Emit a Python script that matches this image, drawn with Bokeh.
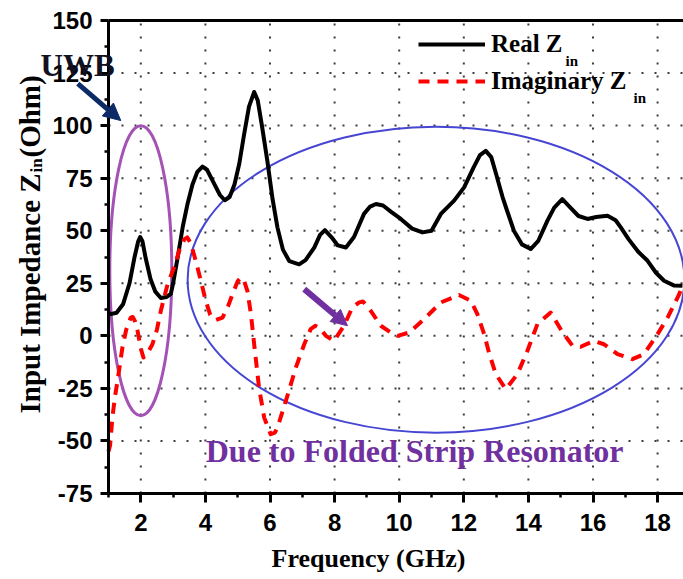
import math
from bokeh.plotting import figure
from bokeh.models import (FixedTicker, LinearAxis, Label, Arrow, NormalHead,
                          Legend, LegendItem)
from bokeh.embed import file_html
from bokeh.resources import INLINE

# ---------------- data ----------------
real_freq = [1.0, 1.07, 1.25, 1.45, 1.65, 1.8, 1.92, 1.98, 2.05, 2.15, 2.3, 2.45,
             2.62, 2.8, 2.93, 3.0, 3.15, 3.3, 3.45, 3.6, 3.75, 3.91, 4.05, 4.25,
             4.45, 4.6, 4.75, 4.9, 5.05, 5.2, 5.35, 5.51, 5.62, 5.75, 5.92, 6.08,
             6.23, 6.4, 6.6, 6.9, 7.1, 7.37, 7.55, 7.7, 7.9, 8.1, 8.35, 8.6, 8.91,
             9.1, 9.28, 9.5, 9.75, 10.05, 10.4, 10.72, 11.0, 11.29, 11.7, 12.01,
             12.3, 12.5, 12.68, 12.85, 13.0, 13.2, 13.34, 13.55, 13.8, 14.07, 14.3,
             14.59, 14.8, 15.05, 15.3, 15.55, 15.83, 16.1, 16.45, 16.7, 16.86,
             17.1, 17.4, 17.69, 17.95, 18.2, 18.5, 18.77]
real_z = [11, 10.3, 11, 15, 25, 37, 45, 47, 45, 37, 27, 21,
          18, 18.5, 20, 25, 38, 52, 63, 72, 78, 80.5, 79, 73,
          67, 64.5, 66, 72, 82, 96, 109, 116, 112, 100, 83, 65,
          51.6, 41, 35.5, 34, 36, 42, 48, 50.3, 47, 43, 42, 47, 58,
          61.5, 62.7, 62, 59, 55.6, 51, 49.2, 50, 58, 64.3, 70.6,
          80, 86, 88, 85, 77, 66, 59.5, 50, 43.5, 41.3, 45,
          54.8, 61, 65, 61, 57, 55.6, 56.5, 57.1, 55, 51.6,
          46, 40, 35.7, 30, 26.2, 24, 23.8]

imag_freq = [1.0, 1.05, 1.12, 1.2, 1.28, 1.43, 1.55, 1.69, 1.75, 1.82, 1.9, 2.0,
             2.08, 2.2, 2.36, 2.5, 2.62, 2.83, 3.03, 3.2, 3.35, 3.44, 3.55, 3.7,
             3.86, 4.01, 4.15, 4.32, 4.53, 4.7, 4.84, 5.0, 5.1, 5.2, 5.3, 5.41,
             5.51, 5.66, 5.82, 6.02, 6.15, 6.23, 6.49, 6.8, 7.06, 7.26, 7.4, 7.55,
             7.73, 7.98, 8.29, 8.55, 8.76, 8.88, 9.12, 9.43, 9.74, 9.95, 10.31,
             10.77, 11.29, 11.85, 12.22, 12.42, 12.63, 12.78, 12.99, 13.3, 13.66,
             13.97, 14.28, 14.69, 15.06, 15.37, 15.62, 16.03, 16.34, 16.76, 17.22,
             17.58, 18.0, 18.31, 18.67, 18.77]
imag_z = [-55, -52, -39, -29, -21.4, -5.6, 3, 8.7, 9, 7, 2.4, -6,
          -10.3, -8.5, -4, 3, 11.9, 24.6, 32.5, 41, 46, 46.8, 44, 35.7,
          26.2, 16.7, 10, 7.5, 8.7, 14, 19.8, 26, 27.8, 26, 21.4, 10.3,
          -4, -24.6, -38.9, -46.8, -46, -43.7, -31, -15.1, -4, 3.2, 4.8, 3.5,
          0, -2.4, 4.8, 13.5, 15.9, 16.3, 11.9, 4.8, 1.6, 0, 1.6,
          7.9, 15.9, 19.4, 16.7, 10.3, 0.8, -8, -18.2, -25.4, -18.2,
          -7.1, 5.6, 11.1, 1.6, -4.8, -5.2, -2.4, -4, -8.7, -11.1,
          -8.7, 0.8, 8.7, 19.8, 23.8]

x_ticks = [2, 4, 6, 8, 10, 12, 14, 16, 18]
x_minor = [1, 3, 5, 7, 9, 11, 13, 15, 17, 19]
y_ticks = [-75, -50, -25, 0, 25, 50, 75, 100, 125, 150]
y_minor = [-62.5, -37.5, -12.5, 12.5, 37.5, 62.5, 87.5, 112.5, 137.5]
x_axis_min = 1
y_axis_min, y_axis_max = -75, 150

series_names = ["Real Z", "Imaginary Z"]

# ---------------- layout (pixels) ----------------
W, H = 683, 579
AX_LEFT_PX = 108      # where x = 1 GHz sits
AX_TOP_PX = 20        # where y = 150 sits
AX_BOTTOM_PX = 493    # where y = -75 sits
PX_PER_GHZ = 32.3
ppu = (AX_BOTTOM_PX - AX_TOP_PX) / (y_axis_max - y_axis_min)
x_start = x_axis_min - AX_LEFT_PX / PX_PER_GHZ
x_end = x_axis_min + (W - AX_LEFT_PX) / PX_PER_GHZ
y_start = y_axis_min - (H - AX_BOTTOM_PX) / ppu
y_end = y_axis_max + AX_TOP_PX / ppu

SERIF = "Liberation Serif"
SANS = "Liberation Sans"

p = figure(width=W, height=H, x_range=(x_start, x_end), y_range=(y_start, y_end),
           output_backend="svg", toolbar_location=None,
           min_border_left=0, min_border_right=0, min_border_top=0,
           min_border_bottom=0)
p.outline_line_color = None
p.background_fill_color = "white"
p.border_fill_color = "white"
p.xgrid.visible = False
p.ygrid.visible = False

# axes (drawn at fixed locations inside the canvas)
xa = p.xaxis[0]
ya = p.yaxis[0]
xa.ticker = FixedTicker(ticks=x_ticks, minor_ticks=x_minor)
ya.ticker = FixedTicker(ticks=y_ticks, minor_ticks=y_minor)
ya.major_label_overrides = {v: str(v) for v in y_ticks}
xa.fixed_location = y_axis_min
ya.fixed_location = x_axis_min
xa.bounds = (x_axis_min, x_end)
ya.bounds = (y_axis_min, y_axis_max)
for ax in (xa, ya):
    ax.axis_line_width = 3
    ax.axis_line_color = "black"
    ax.major_tick_line_width = 3
    ax.minor_tick_line_width = 2.5
    ax.major_tick_line_color = "black"
    ax.minor_tick_line_color = "black"
    ax.major_tick_in = 0
    ax.minor_tick_in = 0
    ax.major_label_text_font = SANS
    ax.major_label_text_font_style = "bold"
    ax.major_label_text_color = "black"
    ax.major_label_text_font_size = "24px"
xa.major_tick_out = 9
xa.minor_tick_out = 4
xa.major_label_standoff = 11
ya.major_tick_out = 8
ya.minor_tick_out = 4
ya.major_label_standoff = 8

top_axis = LinearAxis(ticker=FixedTicker(ticks=[]), fixed_location=y_axis_max,
                      bounds=(x_axis_min, x_end), axis_line_width=3,
                      axis_line_color="black", major_tick_line_color=None,
                      minor_tick_line_color=None)
p.add_layout(top_axis, "above")

# dotted grid at the major ticks
grid_style = dict(line_color="#3c3c3c", line_width=2, line_dash="2 11")
p.segment(x0=x_ticks, x1=x_ticks, y0=[y_axis_min] * len(x_ticks),
          y1=[y_axis_max] * len(x_ticks), **grid_style)
inner_y = y_ticks[1:-1]
p.segment(x0=[x_axis_min] * len(inner_y), x1=[x_end] * len(inner_y),
          y0=inner_y, y1=inner_y, **grid_style)

# highlight ellipses (annotation geometry)
p.ellipse(x=[2.0], y=[31], width=[1.92], height=[138], fill_color=None,
          line_color="#a452b4", line_width=3)
p.ellipse(x=[11.14], y=[26.7], width=[15.38], height=[145.5], fill_color=None,
          line_color="#4646d2", line_width=2)

# curves
r_real = p.line(real_freq, real_z, line_color="black", line_width=4,
                line_join="round")
r_imag = p.line(imag_freq, imag_z, line_color="#ff0000", line_width=4,
                line_dash="11 8", line_join="round")

# legend
legend = Legend(items=[LegendItem(label=series_names[0], renderers=[r_real]),
                       LegendItem(label=series_names[1], renderers=[r_imag])],
                location=(418, H - 95), orientation="vertical",
                glyph_width=67, glyph_height=28, label_height=28,
                label_standoff=6, spacing=9, padding=0, margin=0,
                border_line_color=None, background_fill_alpha=0,
                label_text_font=SERIF, label_text_font_style="bold",
                label_text_font_size="25px", label_text_color="black")
p.add_layout(legend)


def slabel(x, y, text, size, color="black", angle=0.0, align="left",
           baseline="alphabetic", units="screen"):
    p.add_layout(Label(x=x, y=y, x_units=units, y_units=units, text=text,
                       text_font=SERIF, text_font_style="bold",
                       text_font_size=size, text_color=color, angle=angle,
                       text_align=align, text_baseline=baseline))


# legend subscripts (screen px from bottom-left)
slabel(565, H - 60, "in", "15px")
slabel(633, H - 97, "in", "15px")

# axis titles
slabel(368, H - 558, "Frequency (GHz)", "26px", align="center")
slabel(29, H - 413, "Input Impedance Z", "29px", angle=math.pi / 2)
slabel(36, H - 172, "in", "17px", angle=math.pi / 2)
slabel(29, H - 157, "(Ohm)", "29px", angle=math.pi / 2)

# annotations
navy = "#0b2a66"
purple = "#7030a0"
slabel(40, H - 65, "UWB", "31px", color="#111122")
p.add_layout(Arrow(end=NormalHead(size=17, fill_color=navy, line_color=navy),
                   x_start=0.05, y_start=120, x_end=1.38, y_end=102.4,
                   line_color=navy, line_width=5))
p.add_layout(Arrow(end=NormalHead(size=16, fill_color=purple, line_color=purple),
                   x_start=7.06, y_start=22.2, x_end=8.40, y_end=4.8,
                   line_color=purple, line_width=6))
slabel(4.01, -55.0, "Due to Folded Strip Resonator", "32px", color=purple,
       units="data")

open("out.html", "w").write(file_html(p, INLINE))
